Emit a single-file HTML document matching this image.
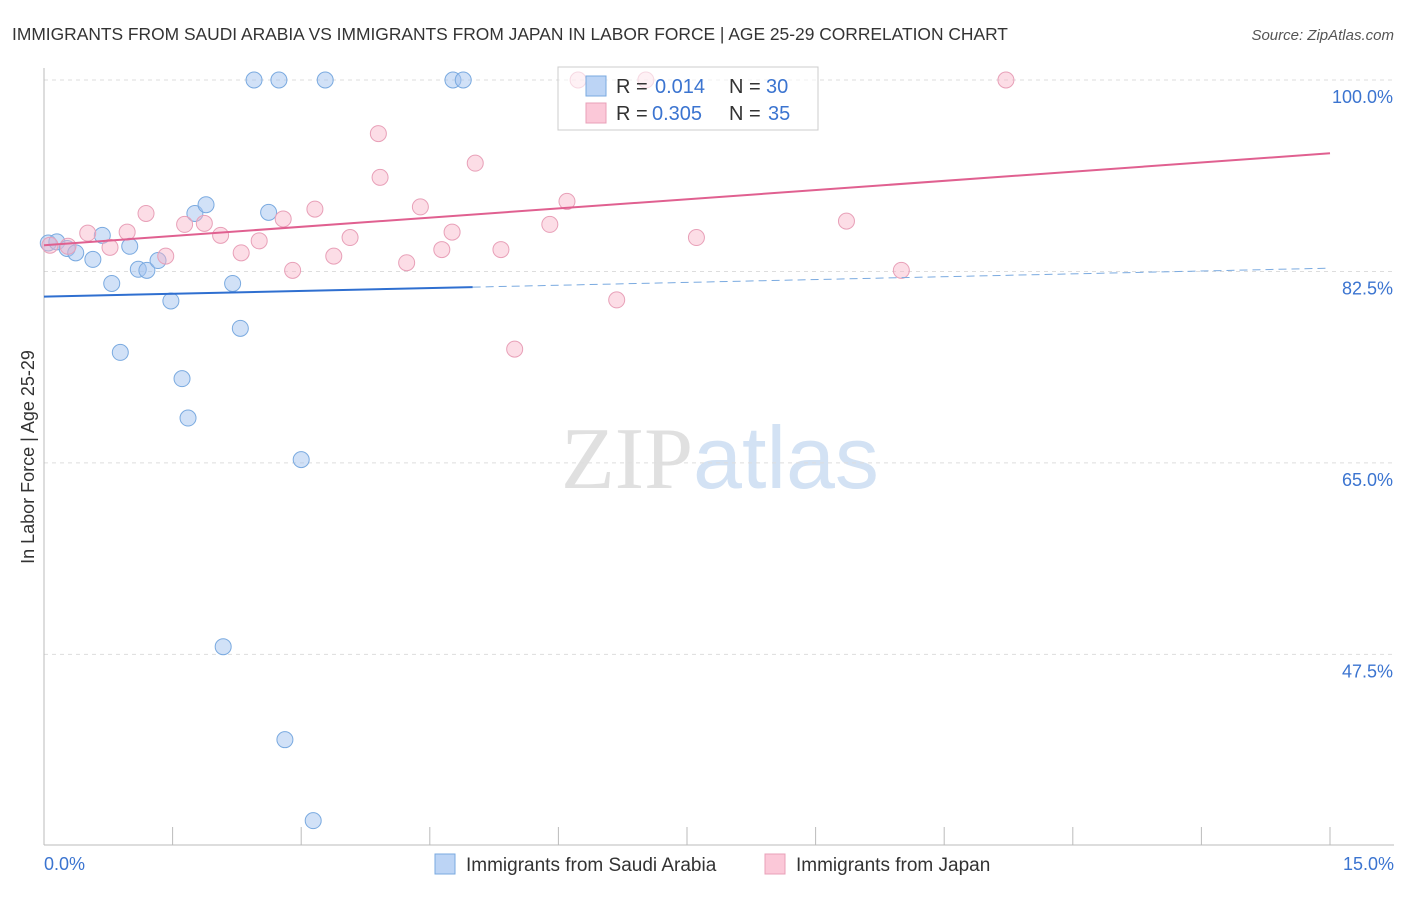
<!DOCTYPE html>
<html><head><meta charset="utf-8"><style>
body{margin:0;background:#fff;font-family:"Liberation Sans",sans-serif;}
</style></head><body>
<svg id="chart" width="1406" height="892" xmlns="http://www.w3.org/2000/svg" font-family="Liberation Sans, sans-serif">
<text x="12" y="40" font-size="17.4" fill="#333">IMMIGRANTS FROM SAUDI ARABIA VS IMMIGRANTS FROM JAPAN IN LABOR FORCE | AGE 25-29 CORRELATION CHART</text>
<text x="1394" y="40" font-size="15" fill="#555" font-style="italic" text-anchor="end">Source: ZipAtlas.com</text>
<text transform="translate(34,457) rotate(-90)" font-size="18" fill="#333" text-anchor="middle">In Labor Force | Age 25-29</text>
<text x="720" y="488" font-size="88" text-anchor="middle"><tspan fill="#e0e0e0" font-family="Liberation Serif, serif">ZIP</tspan><tspan fill="#d3e2f4">atlas</tspan></text>
<g id="grid"></g><g id="marks"></g>
<g>
<rect x="558" y="67" width="260" height="63" fill="#fff" fill-opacity="0.6" stroke="#ccc"/>
<rect x="586" y="76" width="20" height="20" fill="#bcd4f5" stroke="#7aaae0"/>
<rect x="586" y="103" width="20" height="20" fill="#fbc8d8" stroke="#e8a0b8"/>
<text x="616" y="93" font-size="20" fill="#333">R =</text>
<text x="655" y="93" font-size="20" fill="#3b74d0">0.014</text>
<text x="729" y="93" font-size="20" fill="#333">N =</text>
<text x="766" y="93" font-size="20" fill="#3b74d0">30</text>
<text x="616" y="120" font-size="20" fill="#333">R =</text>
<text x="652" y="120" font-size="20" fill="#3b74d0">0.305</text>
<text x="729" y="120" font-size="20" fill="#333">N =</text>
<text x="768" y="120" font-size="20" fill="#3b74d0">35</text>
</g>
<g>
<rect x="435" y="854" width="20" height="20" fill="#bcd4f5" stroke="#7aaae0"/>
<text x="466" y="871" font-size="19" fill="#333">Immigrants from Saudi Arabia</text>
<rect x="765" y="854" width="20" height="20" fill="#fbc8d8" stroke="#e8a0b8"/>
<text x="796" y="871" font-size="19" fill="#333">Immigrants from Japan</text>
</g>
</svg>
<script>
const yTicks=[100,82.5,65,47.5];
const yTickLabels=["100.0%","82.5%","65.0%","47.5%"];
const xTickLabels=["0.0%","15.0%"];
const blueX=[0.05,0.15,0.27,0.37,0.57,0.68,0.79,0.89,1.00,1.10,1.20,1.33,1.48,1.61,1.68,1.76,1.89,2.09,2.20,2.29,2.45,2.62,2.74,2.81,3.00,3.14,3.28,4.77,4.89];
const blueY=[85.1,85.2,84.6,84.2,83.6,85.8,81.4,75.1,84.8,82.7,82.6,83.5,79.8,72.7,69.1,87.8,88.6,48.2,81.4,77.3,100,87.9,100,39.7,65.3,32.3,100,100,100];
const pinkX=[0.07,0.28,0.51,0.77,0.97,1.19,1.42,1.64,1.87,2.06,2.30,2.51,2.79,2.90,3.16,3.38,3.57,3.90,3.92,4.23,4.39,4.64,4.76,5.03,5.33,5.49,5.90,6.10,6.23,6.68,7.02,7.61,9.36,10.00,11.22];
const pinkY=[84.9,84.8,86.0,84.7,86.1,87.8,83.9,86.8,86.9,85.8,84.2,85.3,87.3,82.6,88.2,83.9,85.6,95.1,91.1,83.3,88.4,84.5,86.1,92.4,84.5,75.4,86.8,88.9,100,79.9,100,85.6,87.1,82.6,100];
const blueTrend=[80.2,82.8];
const pinkTrend=[84.9,93.3];
const NS="http://www.w3.org/2000/svg";
const xs=v=>44+v*(1286/15);
const ys=v=>80+(100-v)*10.94;
function mk(t,a,p){const e=document.createElementNS(NS,t);for(const k in a)e.setAttribute(k,a[k]);p.appendChild(e);return e;}
const grid=document.getElementById('grid'),marks=document.getElementById('marks');
yTicks.forEach((t,i)=>{
 const l=mk('line',{x1:44,x2:1394,y1:ys(t),y2:ys(t),stroke:'#ddd','stroke-dasharray':'4,4'},grid);
 
 
 const tx=mk('text',{x:1393,y:ys(t)+23,'font-size':18,fill:'#3b74d0','text-anchor':'end'},grid);
 tx.textContent=yTickLabels[i];
 
 
});
const ax=mk('line',{x1:44,x2:44,y1:68,y2:845,stroke:'#bbb'},grid);


const bx=mk('line',{x1:44,x2:1394,y1:845,y2:845,stroke:'#bbb'},grid);


for(let i=1;i<=10;i++){const v=i*1.5;const t=mk('line',{x1:xs(v),x2:xs(v),y1:827,y2:845,stroke:'#bbb'},grid);
 
 }
[[0,'start',44],[15,'end',1394]].forEach((d,i)=>{const t=mk('text',{x:d[2],y:870,'font-size':18,fill:'#3b74d0','text-anchor':d[1]},grid);t.textContent=xTickLabels[i];
 
 });
function pts(X,Y,fill,stroke,name){X.forEach((x,i)=>{const c=mk('circle',{cx:xs(x),cy:ys(Y[i]),r:8,fill:fill,stroke:stroke,'stroke-width':1},marks);
 
 });}
pts(blueX,blueY,'rgba(164,196,240,0.5)','#7aaae0','saudi-point');
pts(pinkX,pinkY,'rgba(248,180,200,0.45)','#e8a0b8','japan-point');
const bm=blueTrend[0]+(blueTrend[1]-blueTrend[0])*5/15;
const b1=mk('line',{x1:xs(0),y1:ys(blueTrend[0]),x2:xs(5),y2:ys(bm),stroke:'#2f6fd0','stroke-width':2},marks);


const b2=mk('line',{x1:xs(5),y1:ys(bm),x2:xs(15),y2:ys(blueTrend[1]),stroke:'#7aaae0','stroke-width':1,'stroke-dasharray':'8,5'},marks);


const p1=mk('line',{x1:xs(0),y1:ys(pinkTrend[0]),x2:xs(15),y2:ys(pinkTrend[1]),stroke:'#e06090','stroke-width':2},marks);


</script>
</body></html>
